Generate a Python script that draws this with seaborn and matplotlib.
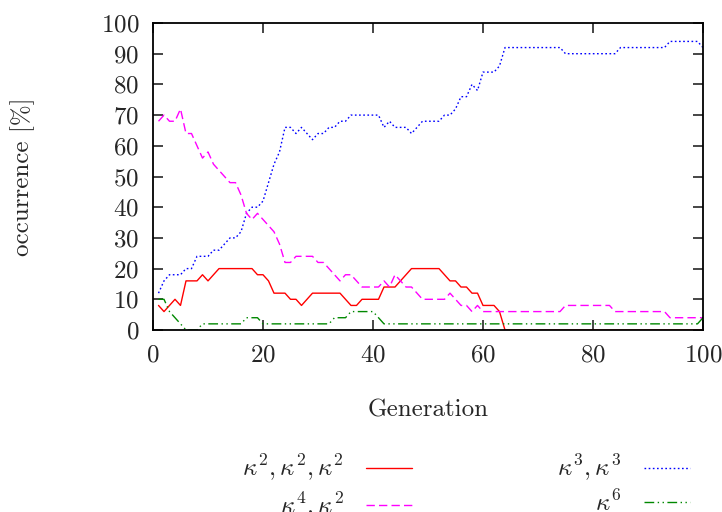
import numpy as np
import pandas as pd
import matplotlib
matplotlib.use('Agg')
import matplotlib.pyplot as plt
import seaborn as sns

# data (generation 1..100, occurrence in %)
generation = list(range(1, 101))

k2_k2_k2 = ([8, 6, 8, 10, 8, 16, 16, 16, 18, 16, 18, 20, 20, 20, 20, 20, 20, 20, 18, 18,
             16, 12, 12, 12, 10, 10, 8, 10, 12, 12, 12, 12, 12, 12, 10, 8, 8, 10, 10, 10,
             10, 14, 14, 14, 16, 18, 20, 20, 20, 20, 20, 20, 18, 16, 16, 14, 14, 12, 12, 8,
             8, 8, 6] + [0] * 37)

k3_k3 = ([12, 16, 18, 18, 18, 20, 20, 24, 24, 24, 26, 26, 28, 30, 30, 32, 38, 40, 40, 42,
          48, 54, 58, 66, 66, 64, 66, 64, 62, 64, 64, 66, 66, 68, 68, 70, 70, 70, 70, 70,
          70, 66, 68, 66, 66, 66, 64, 66, 68, 68, 68, 68, 70, 70, 72, 76, 76, 80, 78, 84,
          84, 84, 86] + [92] * 11 + [90] * 10 + [92] * 9 + [94] * 6 + [92])

k4_k2 = ([68, 70, 68, 68, 72, 64, 64, 60, 56, 58, 54, 52, 50, 48, 48, 44, 38, 36, 38, 36,
          34, 32, 28, 22, 22, 24, 24, 24, 24, 22, 22, 20, 18, 16, 18, 18, 16, 14, 14, 14,
          14, 16, 14, 18, 16, 14, 14, 12, 10, 10, 10, 10, 10, 12, 10, 8, 8, 6, 8]
         + [6] * 15 + [8] * 9 + [6] * 10 + [4] * 7)

k6 = ([10, 10, 6, 4, 2, 0, 0, 0] + [2] * 8 + [4] * 3 + [2] * 13 + [4] * 3 + [6] * 5
      + [4] + [2] * 58 + [4])

labels = [r'$\kappa^2,\kappa^2,\kappa^2$', r'$\kappa^3,\kappa^3$',
          r'$\kappa^4,\kappa^2$', r'$\kappa^6$']
series = [k2_k2_k2, k3_k3, k4_k2, k6]
colors = ['#ff0000', '#0000ff', '#ff00ff', '#008800']
styles = ['-', (0, (1.2, 1.8)), (0, (6, 3)), (0, (7, 2.5, 1, 2.5, 1, 2.5))]

sns.set_style('ticks')
plt.rcParams['font.family'] = ['cmr10']
plt.rcParams['mathtext.fontset'] = 'cm'
plt.rcParams['axes.formatter.use_mathtext'] = True
plt.rcParams['font.size'] = 18

fig = plt.figure(figsize=(7.22, 5.12), dpi=100)
ax = fig.add_axes([153 / 722, 1 - 330 / 512, 550 / 722, 307 / 512])

for vals, lab, col, ls in zip(series, labels, colors, styles):
    df = pd.DataFrame({'gen': generation, 'occ': vals})
    sns.lineplot(data=df, x='gen', y='occ', ax=ax, color=col, linestyle=ls,
                 linewidth=1.0, label=lab)

ax.set_xlim(0, 100)
ax.set_ylim(0, 100)
ax.set_xticks(np.arange(0, 101, 20))
ax.set_yticks(np.arange(0, 101, 10))
ax.tick_params(direction='in', length=7, width=1.2, top=True, right=True,
               labelsize=18, pad=10)
for sp in ax.spines.values():
    sp.set_linewidth(1.3)
    sp.set_color('black')

ax.set_xlabel('Generation')
ax.set_ylabel('occurrence [%]')
ax.xaxis.set_label_coords(0.5, -0.225)
ax.yaxis.set_label_coords(-0.215, 0.5)

# legend: column-wise order red, magenta | blue, green
h, l = ax.get_legend_handles_labels()
order = [0, 2, 1, 3]
ax.get_legend().remove()
fig.legend([h[i] for i in order], [l[i] for i in order], ncol=2, markerfirst=False,
           frameon=False, loc='upper left', bbox_to_anchor=(242 / 722, 1 - 453 / 512),
           borderpad=0, borderaxespad=0, handlelength=1.85, handletextpad=0.9,
           columnspacing=5.8, labelspacing=0.28, fontsize=18)

fig.savefig('out.png', dpi=100)
